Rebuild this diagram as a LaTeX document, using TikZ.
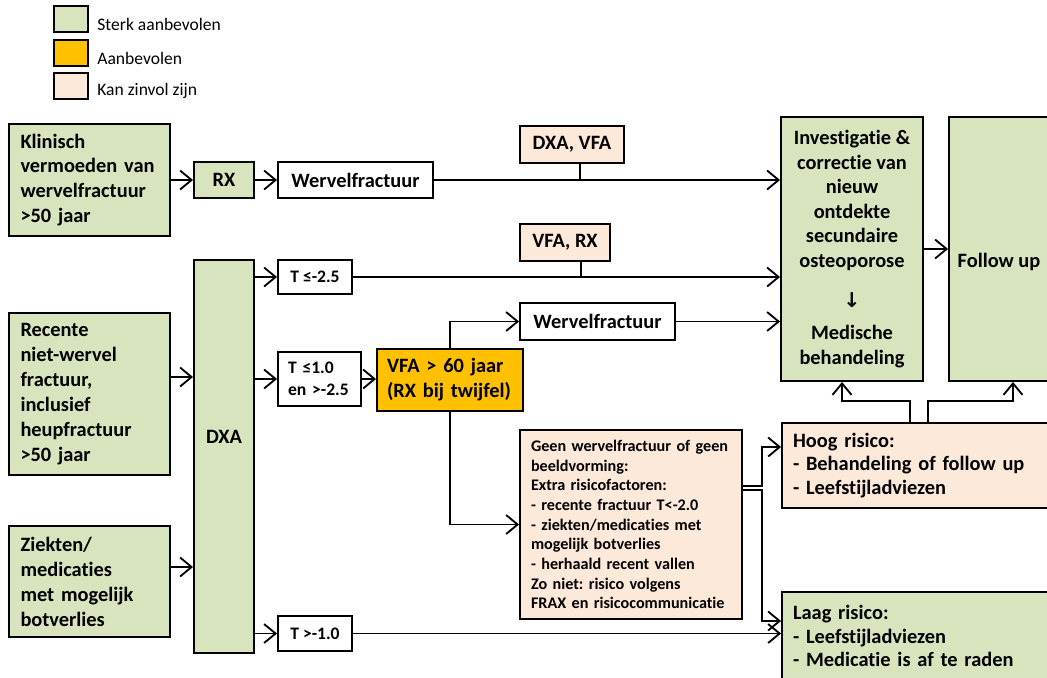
\documentclass[tikz,border=0pt]{standalone}
\usepackage{fontspec}
\setmainfont{Carlito}[Ligatures=NoCommon]
\newfontfamily\pijlfont{DejaVu Sans}
\usetikzlibrary{arrows.meta}
\frenchspacing
\definecolor{sterk}{HTML}{D7E4BD}
\definecolor{aanb}{HTML}{FFC000}
\definecolor{zinvol}{HTML}{FDE9D9}
\tikzset{
  box/.style={draw, line width=1.1pt, inner sep=0pt, font=\bfseries\fontsize{11.6}{14.2}\selectfont},
  groen/.style={box, fill=sterk},
  oranje/.style={box, fill=aanb},
  roze/.style={box, fill=zinvol},
  wit/.style={box, fill=white},
  legbox/.style={draw, line width=1.4pt, minimum width=0.68cm, minimum height=0.52cm},
  legtxt/.style={anchor=west, inner sep=0pt, font=\fontsize{10}{12}\selectfont},
  tbox/.style={wit, font=\bfseries\fontsize{10}{12.5}\selectfont},
  pijl/.style={-{Straight Barb[length=2.3mm,width=3.8mm]}, line width=1.05pt},
  lijn/.style={line width=1.05pt},
}
\begin{document}
\begin{tikzpicture}[x=0.02cm, y=-0.02cm]
  \useasboundingbox (0,0) rectangle (1047,677);
  \clip (0,0) rectangle (1047,677);
  % legenda
  \node[legbox, fill=sterk] (lg1) at (71,19) {};
  \node[legbox, fill=aanb] (lg2) at (71,53) {};
  \node[legbox, fill=zinvol] (lg3) at (71,86) {};
  \node[legtxt] (lgt1) at (97,24) {Sterk aanbevolen};
  \node[legtxt] (lgt2) at (97,58) {Aanbevolen};
  \node[legtxt] (lgt3) at (97,91) {Kan zinvol zijn};
  % links
  \node[groen, text width=2.76cm, inner xsep=0.23cm, minimum height=2.24cm, align=left] (klin) at (89.5,180) {Klinisch\\ vermoeden van\\ wervelfractuur\\ >50 jaar};
  \node[groen, text width=2.76cm, inner xsep=0.23cm, minimum height=3.24cm, align=left] (recent) at (89.5,394) {Recente\\ niet-wervel\\ fractuur,\\ inclusief\\ heupfractuur\\ >50 jaar};
  \node[groen, text width=2.76cm, inner xsep=0.23cm, minimum height=2.22cm, align=left] (ziek) at (89.5,581.5) {Ziekten/\\ medicaties\\ met mogelijk\\ botverlies};
  \node[groen, minimum width=1.2cm, minimum height=0.72cm] (rx) at (224,180) {RX};
  \node[groen, minimum width=1.2cm, minimum height=7.86cm] (dxa) at (224,456.5) {};
  \node[font=\bfseries\fontsize{11.6}{14.2}\selectfont] (dxatxt) at (224,437) {DXA};
  % midden
  \node[wit, minimum width=3.1cm, minimum height=0.72cm] (wtop) at (355.5,180) {Wervelfractuur};
  \node[tbox, minimum width=1.48cm, minimum height=0.68cm] (t25) at (315,277) {T ≤-2.5};
  \node[tbox, text width=1.26cm, inner xsep=0.2cm, minimum height=1.08cm, align=left] (t10) at (319.5,379) {T ≤1.0\\ en >-2.5};
  \node[tbox, minimum width=1.48cm, minimum height=0.7cm] (tm10) at (315,633.5) {T >-1.0};
  \node[oranje, text width=2.52cm, inner xsep=0.2cm, minimum height=1.24cm, align=left] (vfa) at (450,380) {VFA > 60 jaar\\ (RX bij twijfel)};
  \node[roze, minimum width=2.08cm, minimum height=0.74cm] (dxavfa) at (572,144.5) {DXA, VFA};
  \node[roze, minimum width=1.8cm, minimum height=0.74cm] (vfarx) at (565,242.5) {VFA, RX};
  \node[wit, minimum width=3.1cm, minimum height=0.74cm] (wmid) at (597.5,321.5) {Wervelfractuur};
  \node[roze, text width=4.0cm, inner xsep=0.22cm, minimum height=3.78cm, align=left, font=\bfseries\fontsize{9.2}{11.2}\selectfont] (geen) at (631,524.5) {Geen wervelfractuur of geen\\ beeldvorming:\\ Extra risicofactoren:\\ - recente fractuur T<-2.0\\ - ziekten/medicaties met\\ mogelijk botverlies\\ - herhaald recent vallen\\ Zo niet: risico volgens\\ FRAX en risicocommunicatie};
  % rechts
  \node[groen, minimum width=2.84cm, minimum height=5.28cm, align=center, font=\bfseries\fontsize{11.6}{14}\selectfont] (inv) at (852,249) {Investigatie \&\\ correctie van\\ nieuw\\ ontdekte\\ secundaire\\ osteoporose\\[0.3cm] {\pijlfont ↓}\\[0.16cm] Medische\\ behandeling};
  \node[groen, minimum width=2cm, minimum height=5.28cm] (follow) at (999,249) {};
  \node[font=\bfseries\fontsize{11.6}{14}\selectfont] (followtxt) at (999,262) {Follow up};
  \node[roze, text width=5.52cm, inner xsep=0.22cm, minimum height=1.7cm, align=left, font=\bfseries\fontsize{11.6}{13.2}\selectfont] (hoog) at (931,465.5) {Hoog risico:\\ - Behandeling of follow up\\ - Leefstijladviezen};
  \node[groen, text width=5.52cm, inner xsep=0.22cm, minimum height=1.76cm, align=left, font=\bfseries\fontsize{11.6}{13.6}\selectfont] (laag) at (931,636) {Laag risico:\\ - Leefstijladviezen\\ - Medicatie is af te raden};
  % pijlen
  \draw[pijl] (klin) -- (rx);
  \draw[pijl] (rx) -- (wtop);
  \draw[pijl] (wtop) -- (wtop -| inv.west);
  \coordinate (j1) at (580,180);
  \draw[lijn] (dxavfa.south -| j1) -- (j1);
  \draw[pijl] ([yshift=0.34cm]recent.east) -- ([yshift=0.34cm]recent.east -| dxa.west);
  \draw[pijl] ([yshift=0.29cm]ziek.east) -- ([yshift=0.29cm]ziek.east -| dxa.west);
  \draw[pijl] (dxa.east |- t25) -- (t25);
  \draw[pijl] (t25) -- (t25 -| inv.west);
  \coordinate (j2) at (581,277);
  \draw[lijn] (vfarx.south -| j2) -- (j2);
  \draw[pijl] (dxa.east |- t10) -- (t10);
  \draw[pijl] (t10.east) -- (t10.east -| vfa.west);
  \draw[pijl] (vfa.north) |- (wmid.west);
  \draw[pijl] (wmid) -- (wmid -| inv.west);
  \draw[pijl] (vfa.south) |- (geen.west);
  \draw[pijl] (dxa.east |- tm10) -- (tm10);
  \draw[pijl] (tm10) -- (tm10 -| laag.west);
  \draw[pijl] (inv) -- (follow);
  \draw[pijl] ([yshift=0.77cm]geen.east) -- ++(19,0) |- ([yshift=0.37cm]hoog.west);
  \draw[pijl] ([yshift=0.69cm]geen.east) -- ++(19,0) |- ([yshift=0.3cm]laag.west);
  \draw[pijl] ([xshift=-0.42cm]hoog.north) -- ++(0,-21) -| ([xshift=-0.2cm]inv.south);
  \draw[pijl] ([xshift=-0.06cm]hoog.north) -- ++(0,-21) -| ([xshift=0.28cm]follow.south);
\end{tikzpicture}
\end{document}
